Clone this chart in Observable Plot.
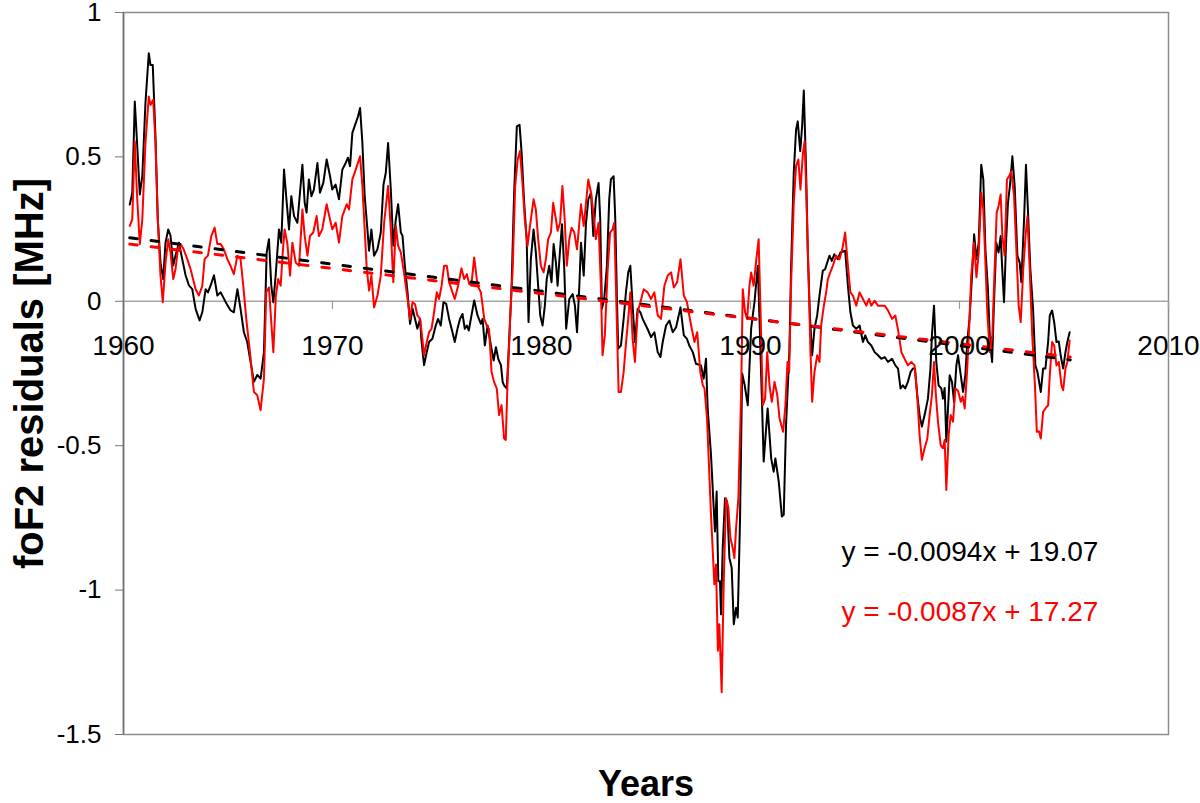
<!DOCTYPE html>
<html><head><meta charset="utf-8">
<script src="https://cdn.jsdelivr.net/npm/d3@7"></script>
<script src="https://cdn.jsdelivr.net/npm/@observablehq/plot@0.6"></script>
<style>body{margin:0;background:#fff}</style>
</head><body><div id="chart"></div>
<script>
const blackYears = [1960.30,1960.42,1960.54,1960.65,1960.78,1960.90,1961.05,1961.21,1961.29,1961.40,1961.53,1961.64,1961.77,1961.90,1962.01,1962.14,1962.25,1962.38,1962.49,1962.65,1962.81,1962.97,1963.13,1963.29,1963.45,1963.64,1963.77,1963.93,1964.04,1964.17,1964.33,1964.49,1964.65,1964.89,1965.12,1965.28,1965.45,1965.60,1965.76,1965.92,1966.08,1966.24,1966.40,1966.56,1966.72,1966.85,1966.96,1967.07,1967.17,1967.28,1967.44,1967.55,1967.68,1967.81,1967.92,1968.03,1968.16,1968.32,1968.56,1968.67,1968.76,1968.87,1968.99,1969.11,1969.28,1969.40,1969.56,1969.72,1969.88,1969.99,1970.15,1970.31,1970.47,1970.63,1970.74,1970.84,1970.95,1971.11,1971.22,1971.32,1971.43,1971.54,1971.67,1971.75,1971.86,1971.99,1972.15,1972.31,1972.44,1972.55,1972.66,1972.79,1972.91,1973.03,1973.14,1973.27,1973.35,1973.46,1973.59,1973.71,1973.83,1973.95,1974.06,1974.19,1974.25,1974.38,1974.51,1974.62,1974.78,1974.94,1975.05,1975.18,1975.31,1975.44,1975.58,1975.74,1975.85,1975.98,1976.10,1976.22,1976.33,1976.43,1976.52,1976.62,1976.78,1976.94,1977.10,1977.18,1977.29,1977.42,1977.58,1977.71,1977.82,1977.93,1978.06,1978.14,1978.21,1978.34,1978.45,1978.57,1978.69,1978.82,1978.95,1979.05,1979.17,1979.29,1979.38,1979.49,1979.62,1979.73,1979.84,1979.94,1980.05,1980.16,1980.25,1980.37,1980.48,1980.58,1980.69,1980.77,1980.88,1980.98,1981.09,1981.18,1981.33,1981.49,1981.60,1981.70,1981.81,1981.89,1982.02,1982.13,1982.24,1982.37,1982.48,1982.60,1982.73,1982.81,1982.89,1983.00,1983.13,1983.24,1983.32,1983.45,1983.53,1983.61,1983.67,1983.80,1983.93,1984.04,1984.15,1984.25,1984.36,1984.47,1984.60,1984.73,1984.84,1985.07,1985.24,1985.40,1985.56,1985.69,1985.80,1985.96,1986.12,1986.28,1986.44,1986.65,1986.81,1986.96,1987.07,1987.24,1987.39,1987.63,1987.76,1987.87,1987.95,1988.11,1988.24,1988.30,1988.38,1988.46,1988.54,1988.59,1988.67,1988.78,1988.88,1988.99,1989.10,1989.20,1989.31,1989.39,1989.50,1989.60,1989.72,1989.87,1990.03,1990.19,1990.35,1990.43,1990.55,1990.63,1990.82,1990.99,1991.11,1991.19,1991.35,1991.50,1991.59,1991.70,1991.78,1991.86,1991.94,1992.07,1992.18,1992.26,1992.38,1992.47,1992.55,1992.66,1992.74,1992.85,1992.95,1993.06,1993.19,1993.30,1993.46,1993.57,1993.67,1993.78,1993.89,1994.01,1994.18,1994.30,1994.53,1994.66,1994.78,1994.90,1995.06,1995.22,1995.38,1995.49,1995.62,1995.78,1995.94,1996.10,1996.26,1996.42,1996.58,1996.77,1996.93,1997.06,1997.18,1997.29,1997.40,1997.53,1997.66,1997.77,1997.87,1997.98,1998.09,1998.20,1998.33,1998.49,1998.61,1998.68,1998.78,1998.89,1999.00,1999.13,1999.21,1999.29,1999.37,1999.53,1999.64,1999.74,1999.85,1999.93,2000.06,2000.17,2000.28,2000.37,2000.48,2000.60,2000.70,2000.81,2000.92,2001.04,2001.14,2001.24,2001.36,2001.46,2001.56,2001.65,2001.76,2001.87,2001.97,2002.03,2002.13,2002.24,2002.32,2002.41,2002.53,2002.64,2002.77,2002.88,2002.96,2003.09,2003.18,2003.28,2003.39,2003.52,2003.63,2003.73,2003.89,2004.00,2004.11,2004.24,2004.32,2004.43,2004.53,2004.64,2004.75,2004.84,2004.96,2005.07,2005.16,2005.27];
const blackValues = [0.335,0.376,0.692,0.548,0.37,0.434,0.686,0.859,0.818,0.818,0.571,0.284,0.134,0.077,0.203,0.249,0.227,0.124,0.159,0.203,0.146,0.09,0.055,0.042,-0.026,-0.066,-0.038,0.042,0.031,0.055,0.09,0.02,0.031,-0.003,-0.031,-0.038,0.042,-0.026,-0.107,-0.141,-0.21,-0.279,-0.255,-0.268,-0.176,0.169,0.215,0.055,-0.003,0.09,0.249,0.203,0.456,0.341,0.249,0.364,0.295,0.272,0.473,0.341,0.307,0.422,0.364,0.387,0.479,0.376,0.41,0.491,0.434,0.387,0.404,0.353,0.456,0.479,0.497,0.468,0.583,0.617,0.64,0.669,0.548,0.364,0.249,0.175,0.249,0.158,0.18,0.238,0.404,0.445,0.548,0.387,0.193,0.284,0.336,0.238,0.227,0.124,0.031,-0.078,-0.026,-0.061,-0.095,-0.061,-0.13,-0.221,-0.176,-0.141,-0.13,-0.084,-0.061,-0.084,-0.003,-0.009,-0.061,-0.107,-0.141,-0.095,-0.061,-0.044,-0.095,-0.084,-0.101,-0.061,0.003,-0.049,-0.078,-0.061,-0.153,-0.084,-0.153,-0.205,-0.159,-0.199,-0.221,-0.279,-0.291,-0.302,-0.141,0.054,0.376,0.606,0.611,0.514,0.341,0.215,-0.072,0.146,0.249,0.169,0.054,-0.049,-0.084,-0.015,0.077,0.123,0.066,0.198,0.134,0.054,0.169,0.267,0.111,-0.095,0.008,0.025,-0.015,-0.107,0.054,0.203,0.089,0.272,0.353,0.376,0.226,0.353,0.41,0.284,-0.026,0.008,0.123,0.353,0.422,0.433,0.284,0.008,-0.164,-0.153,-0.061,0.031,0.1,0.123,-0.015,-0.141,-0.026,-0.038,-0.061,-0.095,-0.124,-0.107,-0.176,-0.193,-0.141,-0.084,-0.067,-0.107,-0.09,-0.021,-0.118,-0.13,-0.153,-0.176,-0.216,-0.222,-0.268,-0.199,-0.371,-0.532,-0.716,-0.797,-0.659,-0.969,-0.969,-1.084,-0.854,-0.682,-0.693,-0.889,-0.923,-1.118,-1.061,-1.095,-0.75,-0.25,-0.29,-0.36,-0.095,-0.003,0.123,-0.061,-0.35,-0.555,-0.371,-0.544,-0.59,-0.544,-0.624,-0.745,-0.739,-0.429,-0.3,-0.176,0.111,0.445,0.594,0.623,0.52,0.606,0.73,0.456,0.169,-0.061,-0.187,-0.095,-0.049,0.02,0.106,0.111,0.134,0.158,0.14,0.163,0.146,0.169,0.175,0.054,-0.038,-0.084,-0.095,-0.084,-0.141,-0.118,-0.141,-0.153,-0.176,-0.187,-0.199,-0.193,-0.21,-0.199,-0.222,-0.233,-0.302,-0.291,-0.302,-0.279,-0.245,-0.233,-0.233,-0.325,-0.394,-0.434,-0.394,-0.337,-0.233,-0.118,-0.015,-0.21,-0.291,-0.302,-0.337,-0.3,-0.486,-0.256,-0.279,-0.348,-0.222,-0.187,-0.256,-0.314,-0.256,-0.141,-0.061,0.089,0.232,0.146,0.203,0.473,0.422,0.18,0.042,-0.141,-0.21,-0.003,0.203,0.169,0.226,0.134,-0.003,0.226,0.341,0.399,0.502,0.399,0.158,0.134,0.066,0.284,0.473,0.307,0.111,-0.026,-0.222,-0.245,-0.314,-0.233,-0.233,-0.141,-0.049,-0.032,-0.072,-0.141,-0.139,-0.187,-0.233,-0.176,-0.141,-0.107];

const redYears = [1960.30,1960.42,1960.54,1960.65,1960.78,1960.90,1961.05,1961.21,1961.29,1961.42,1961.53,1961.64,1961.77,1961.88,1962.01,1962.14,1962.25,1962.38,1962.49,1962.60,1962.73,1962.88,1963.05,1963.21,1963.45,1963.61,1963.77,1963.88,1964.04,1964.20,1964.36,1964.49,1964.65,1964.80,1964.97,1965.12,1965.28,1965.45,1965.60,1965.73,1965.89,1966.05,1966.24,1966.40,1966.56,1966.72,1966.83,1966.96,1967.07,1967.17,1967.29,1967.40,1967.52,1967.63,1967.71,1967.84,1967.97,1968.08,1968.24,1968.40,1968.56,1968.67,1968.80,1968.92,1969.08,1969.24,1969.35,1969.51,1969.72,1969.88,1969.99,1970.15,1970.31,1970.47,1970.68,1970.79,1970.95,1971.11,1971.32,1971.43,1971.54,1971.64,1971.75,1971.86,1971.99,1972.15,1972.31,1972.47,1972.66,1972.79,1972.91,1973.03,1973.14,1973.27,1973.42,1973.59,1973.71,1973.83,1973.95,1974.06,1974.19,1974.30,1974.38,1974.51,1974.62,1974.74,1974.86,1974.99,1975.10,1975.22,1975.34,1975.47,1975.58,1975.74,1975.85,1976.01,1976.17,1976.30,1976.43,1976.54,1976.65,1976.78,1976.94,1977.10,1977.26,1977.38,1977.49,1977.61,1977.73,1977.86,1977.97,1978.09,1978.21,1978.29,1978.37,1978.50,1978.62,1978.74,1978.86,1978.97,1979.10,1979.20,1979.33,1979.45,1979.62,1979.73,1979.84,1979.97,1980.10,1980.21,1980.32,1980.45,1980.56,1980.69,1980.77,1980.89,1981.00,1981.11,1981.21,1981.33,1981.44,1981.57,1981.70,1981.81,1981.89,1982.02,1982.13,1982.24,1982.37,1982.48,1982.60,1982.73,1982.84,1982.92,1983.03,1983.16,1983.28,1983.40,1983.48,1983.56,1983.69,1983.80,1983.93,1984.06,1984.15,1984.25,1984.36,1984.47,1984.60,1984.73,1984.89,1985.08,1985.24,1985.40,1985.56,1985.72,1985.88,1986.04,1986.20,1986.33,1986.49,1986.65,1986.81,1986.96,1987.07,1987.19,1987.32,1987.45,1987.60,1987.72,1987.80,1987.92,1988.11,1988.27,1988.35,1988.44,1988.51,1988.62,1988.72,1988.83,1988.94,1989.04,1989.15,1989.23,1989.31,1989.42,1989.55,1989.63,1989.74,1989.84,1989.95,1990.03,1990.15,1990.28,1990.39,1990.49,1990.59,1990.70,1990.80,1990.91,1991.02,1991.15,1991.28,1991.39,1991.56,1991.67,1991.77,1991.85,1991.94,1992.07,1992.18,1992.29,1992.39,1992.51,1992.59,1992.66,1992.77,1992.87,1992.95,1993.06,1993.19,1993.30,1993.38,1993.51,1993.62,1993.70,1993.82,1993.94,1994.10,1994.26,1994.39,1994.53,1994.66,1994.78,1994.90,1995.06,1995.22,1995.38,1995.54,1995.67,1995.78,1995.94,1996.10,1996.26,1996.42,1996.58,1996.77,1996.93,1997.06,1997.22,1997.37,1997.53,1997.69,1997.85,1997.98,1998.09,1998.20,1998.33,1998.46,1998.57,1998.68,1998.78,1998.86,1998.97,1999.10,1999.21,1999.29,1999.37,1999.48,1999.58,1999.69,1999.80,1999.93,2000.06,2000.15,2000.25,2000.37,2000.48,2000.56,2000.70,2000.81,2000.92,2001.04,2001.14,2001.24,2001.33,2001.45,2001.57,2001.68,2001.78,2001.87,2001.97,2002.05,2002.16,2002.27,2002.37,2002.48,2002.61,2002.72,2002.83,2002.93,2003.05,2003.16,2003.25,2003.36,2003.48,2003.61,2003.70,2003.80,2003.89,2004.00,2004.11,2004.24,2004.32,2004.43,2004.53,2004.64,2004.75,2004.88,2004.96,2005.07,2005.16,2005.27];
const redValues = [0.261,0.284,0.554,0.364,0.198,0.284,0.548,0.709,0.68,0.698,0.548,0.284,0.089,-0.003,0.134,0.215,0.169,0.077,0.111,0.18,0.198,0.18,0.146,0.111,0.042,0.02,0.054,0.146,0.158,0.226,0.255,0.198,0.198,0.18,0.146,0.123,0.094,0.158,0.146,0.054,-0.072,-0.176,-0.314,-0.325,-0.377,-0.268,0.031,0.048,-0.072,-0.176,0.02,0.077,0.054,0.18,0.249,0.2,0.089,0.203,0.134,0.123,0.318,0.226,0.158,0.226,0.238,0.295,0.226,0.249,0.336,0.284,0.249,0.272,0.203,0.295,0.336,0.318,0.422,0.456,0.502,0.399,0.249,0.111,0.037,0.089,-0.021,0.02,0.089,0.272,0.399,0.249,0.066,0.261,0.192,0.169,0.1,0.008,-0.061,-0.003,-0.01,-0.049,-0.061,-0.13,-0.187,-0.141,-0.107,-0.095,-0.038,0.031,0.008,0.054,0.123,0.123,0.066,0.031,0.008,0.054,0.114,0.077,0.094,0.06,0.06,0.152,0.054,0.031,-0.061,-0.084,-0.095,-0.245,-0.279,-0.302,-0.394,-0.36,-0.475,-0.48,-0.291,-0.061,0.111,0.399,0.491,0.52,0.399,0.284,0.192,0.261,0.353,0.318,0.215,0.123,0.1,0.146,0.215,0.238,0.341,0.284,0.244,0.272,0.399,0.284,0.123,0.215,0.255,0.238,0.18,0.272,0.336,0.261,0.341,0.422,0.376,0.307,0.215,0.272,0.054,-0.187,-0.118,0.1,0.238,0.249,0.272,0.054,-0.314,-0.314,-0.245,-0.13,-0.061,0.031,-0.13,-0.21,-0.038,-0.003,0.042,0.031,0.008,0.031,-0.049,-0.061,0.054,0.089,0.1,0.048,0.066,0.146,0.02,-0.003,-0.049,-0.095,-0.141,-0.107,-0.245,-0.291,-0.302,-0.406,-0.739,-0.98,-0.911,-1.21,-1.118,-1.354,-0.969,-0.682,-0.716,-0.82,-0.854,-0.889,-0.785,-0.682,-0.325,0.042,-0.038,-0.061,0.054,0.1,0.054,0.146,0.215,-0.061,-0.36,-0.337,-0.176,-0.291,-0.348,-0.279,-0.325,-0.406,-0.452,-0.36,-0.21,-0.245,0.054,0.341,0.468,0.491,0.387,0.514,0.554,0.399,0.111,-0.176,-0.348,-0.245,-0.187,-0.21,-0.084,-0.015,0.031,0.077,0.1,0.123,0.158,0.146,0.18,0.238,0.123,0.031,0.02,-0.015,0.031,0.008,-0.015,0.008,-0.015,0.002,-0.015,-0.015,-0.015,-0.032,-0.061,-0.049,-0.1,-0.176,-0.199,-0.222,-0.21,-0.222,-0.33,-0.463,-0.549,-0.509,-0.475,-0.394,-0.325,-0.21,-0.314,-0.417,-0.498,-0.509,-0.48,-0.653,-0.463,-0.394,-0.417,-0.302,-0.31,-0.348,-0.33,-0.371,-0.233,-0.061,0.089,0.203,0.083,0.169,0.376,0.318,0.134,-0.038,-0.176,-0.118,0.111,0.307,0.33,0.37,0.226,0.158,0.422,0.433,0.45,0.364,0.18,-0.015,-0.072,0.111,0.226,0.295,0.111,-0.118,-0.291,-0.452,-0.45,-0.475,-0.383,-0.371,-0.36,-0.256,-0.141,-0.153,-0.222,-0.21,-0.291,-0.308,-0.233,-0.21,-0.136];

const trendYears = [1960.3, 2005.3];
const blackTrend = [0.22, -0.203];
const redTrend = [0.198, -0.193];

const xTicks = [1960, 1970, 1980, 1990, 2000, 2010];
const yTicks = [-1.5, -1, -0.5, 0, 0.5, 1];
const equations = ["y = -0.0094x + 19.07", "y = -0.0087x + 17.27"];
const seriesColors = ["#000000", "#ff0000"];
const xTitle = "Years";
const yTitle = "foF2 residuals [MHz]";

const black = blackYears.map((x, i) => ({x, y: blackValues[i]}));
const red = redYears.map((x, i) => ({x, y: redValues[i]}));
const tBlack = trendYears.map((x, i) => ({x, y: blackTrend[i]}));
const tRed = trendYears.map((x, i) => ({x, y: redTrend[i]}));

const titleFont = "'Liberation Sans', Arial, sans-serif";

const chart = Plot.plot({
  width: 1200, height: 803,
  marginLeft: 123, marginRight: 32, marginTop: 12, marginBottom: 69,
  x: {domain: [1960, 2010], axis: null},
  y: {domain: [-1.5, 1], axis: null},
  style: {fontFamily: "'Liberation Sans', Arial, sans-serif", fontSize: "26px", background: "#fff", color: "#000", overflow: "visible"},
  marks: [
    Plot.frame({stroke: "#8c8c8c", strokeWidth: 1.5}),
    Plot.ruleY([0], {stroke: "#a6a6a6", strokeWidth: 1.5}),
    Plot.ruleX(xTicks, {x: d => d, y1: 0, y2: -0.028, stroke: "#999", strokeWidth: 1.2}),
    Plot.axisY({ticks: yTicks, label: null, tickSize: 8, tickPadding: 14, tickFormat: d => String(d), stroke: "#777", fill: "#000", fontSize: 26}),
    Plot.ruleX([1960], {stroke: "#6e6e6e", strokeWidth: 1.5}),
    Plot.line(black, {x: "x", y: "y", stroke: seriesColors[0], strokeWidth: 2}),
    Plot.line(red, {x: "x", y: "y", stroke: seriesColors[1], strokeWidth: 2}),
    Plot.line(tBlack, {x: "x", y: "y", stroke: seriesColors[0], strokeWidth: 3, strokeDasharray: "7.5,14"}),
    Plot.line(tRed, {x: "x", y: "y", stroke: seriesColors[1], strokeWidth: 3, strokeDasharray: "7.5,14"}),
    Plot.text(xTicks, {x: d => d, y: () => 0, text: d => String(d), lineAnchor: "bottom", dy: 54, fontSize: 28, fill: "#000"}),
    Plot.text([equations[0]], {frameAnchor: "bottom-left", textAnchor: "start", lineAnchor: "bottom", dx: 718, dy: -174, fontSize: 28, fill: seriesColors[0]}),
    Plot.text([equations[1]], {frameAnchor: "bottom-left", textAnchor: "start", lineAnchor: "bottom", dx: 718, dy: -114, fontSize: 28, fill: seriesColors[1]}),
    Plot.text([yTitle], {frameAnchor: "left", textAnchor: "middle", rotate: -90, dx: -93, fontSize: 40, fontWeight: "bold", fontFamily: titleFont, fill: "#000"}),
    Plot.text([xTitle], {frameAnchor: "bottom", textAnchor: "middle", lineAnchor: "bottom", dy: 61, fontSize: 36, fontWeight: "bold", fontFamily: titleFont, fill: "#000"})
  ]
});
document.getElementById("chart").appendChild(chart);
</script>
</body></html>
